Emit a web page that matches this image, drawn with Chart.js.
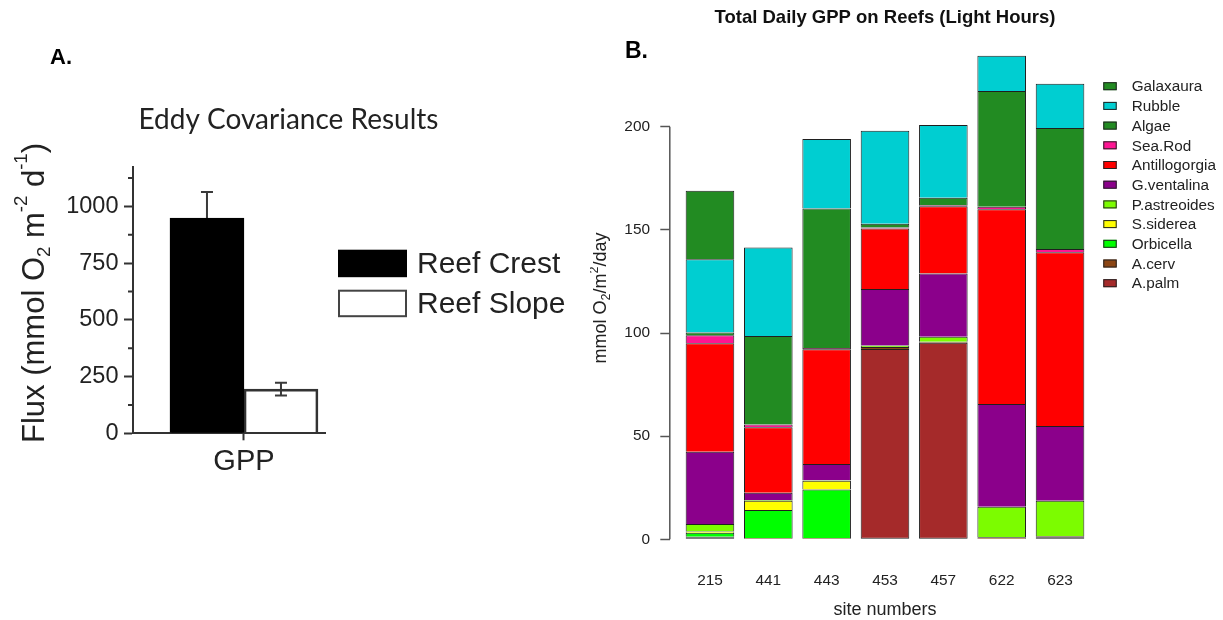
<!DOCTYPE html>
<html>
<head>
<meta charset="utf-8">
<title>Reef GPP</title>
<script src="https://cdn.jsdelivr.net/npm/chart.js@4.4.1/dist/chart.umd.min.js"></script>
<style>
  html, body { margin: 0; padding: 0; background: #fff; }
  #wrap { position: relative; width: 1223px; height: 620px; overflow: hidden; }
  canvas { position: absolute; top: 0; }
  #panelA { left: 0; }
  #panelB { left: 590px; }
</style>
</head>
<body>
<div id="wrap">
  <canvas id="panelA" width="590" height="620"></canvas>
  <canvas id="panelB" width="633" height="620"></canvas>
</div>
<script>
// ---- Panel A: eddy covariance GPP ----
const fluxGroups = ['Reef Crest', 'Reef Slope'];
const fluxValues = [948, 195];
const fluxErrors = [115, 28];
const fluxTicks = [0, 250, 500, 750, 1000];
const fluxMinorTicks = [125, 375, 625, 875, 1125];

// ---- Panel B: daily GPP by site, stacked by community component ----
const sites = ['215', '441', '443', '453', '457', '622', '623'];
const components = ['A.palm', 'A.cerv', 'Orbicella', 'S.siderea', 'P.astreoides',
  'G.ventalina', 'Antillogorgia', 'Sea.Rod', 'Algae', 'Rubble', 'Galaxaura'];
const componentColors = ['#A52A2A', '#8B4513', '#00FF00', '#FFFF00', '#7CFC00',
  '#8B008B', '#FF0000', '#FF1493', '#228B22', '#00CED1', '#228B22'];
const aPalm        = [1.0, 0.3, 0.3, 92.2, 95.3, 0.3, 1.0];
const aCerv        = [0.2, 0.3, 0.3, 1.0, 0.5, 0.7, 0.5];
const orbicella    = [2.0, 13.6, 23.6, 0, 0, 0, 0];
const sSiderea     = [0.6, 4.5, 4.2, 0, 0, 0, 0];
const pAstreoides  = [3.6, 0.4, 0.2, 0.8, 2.4, 14.8, 17.2];
const gVentalina   = [35.1, 3.5, 7.9, 27.3, 30.6, 49.8, 36.2];
const antillogorgia= [52.5, 31.7, 55.6, 29.3, 32.6, 94.4, 84.2];
const seaRod       = [3.9, 1.3, 0.6, 0.5, 0.5, 1.2, 1.6];
const algae        = [1.3, 42.9, 67.7, 1.9, 3.7, 56.1, 58.7];
const rubble       = [35.6, 43.0, 33.6, 45.1, 35.2, 17.1, 21.4];
const galaxaura    = [33.1, 0, 0, 0, 0, 0, 0];
const componentValues = [aPalm, aCerv, orbicella, sSiderea, pAstreoides,
  gVentalina, antillogorgia, seaRod, algae, rubble, galaxaura];
const gppTicks = [0, 50, 100, 150, 200];

const SANS = "'Liberation Sans', Arial, Helvetica, sans-serif";

// Text with sub/superscript runs, centred on (cx, cy), optionally rotated.
function drawRich(ctx, parts, cx, cy, size, rot, color) {
  ctx.save();
  ctx.translate(cx, cy);
  ctx.rotate(rot || 0);
  ctx.fillStyle = color || '#111';
  ctx.textBaseline = 'middle';
  ctx.textAlign = 'left';
  const widths = parts.map(p => {
    ctx.font = `${size * (p.s || 1)}px ${SANS}`;
    return ctx.measureText(p.t).width;
  });
  const total = widths.reduce((a, b) => a + b, 0);
  let x = -total / 2;
  parts.forEach((p, i) => {
    ctx.font = `${size * (p.s || 1)}px ${SANS}`;
    ctx.fillText(p.t, x, (p.dy || 0) * size);
    x += widths[i];
  });
  ctx.restore();
}

function drawText(ctx, text, x, y, font, align, color) {
  ctx.save();
  ctx.font = font;
  ctx.fillStyle = color || '#111';
  ctx.textAlign = align || 'center';
  ctx.textBaseline = 'middle';
  ctx.fillText(text, x, y);
  ctx.restore();
}

// Decorations for panel A: error bars (behind the columns), minor ticks, titles, legend
const panelAPlugin = {
  id: 'panelADecor',
  beforeDatasetsDraw(chart) {
    const ctx = chart.ctx;
    const ys = chart.scales.y;
    fluxValues.forEach((v, i) => {
      const bar = chart.getDatasetMeta(i).data[0];
      const x = bar.x;
      const yTop = ys.getPixelForValue(v + fluxErrors[i]);
      const yBot = ys.getPixelForValue(v - fluxErrors[i]);
      ctx.save();
      ctx.strokeStyle = '#3a3a3a';
      ctx.lineWidth = 2;
      ctx.beginPath();
      ctx.moveTo(x, yTop); ctx.lineTo(x, yBot);
      ctx.moveTo(x - 6, yTop); ctx.lineTo(x + 6, yTop);
      ctx.moveTo(x - 6, yBot); ctx.lineTo(x + 6, yBot);
      ctx.stroke();
      ctx.restore();
    });
  },
  afterDraw(chart) {
    const ctx = chart.ctx;
    const ys = chart.scales.y;
    const area = chart.chartArea;
    // minor ticks
    ctx.save();
    ctx.strokeStyle = '#333';
    ctx.lineWidth = 2;
    ctx.beginPath();
    fluxMinorTicks.forEach(v => {
      const y = ys.getPixelForValue(v);
      ctx.moveTo(area.left - 5, y); ctx.lineTo(area.left, y);
    });
    ctx.stroke();
    ctx.restore();

    // panel letter and title
    drawText(ctx, 'A.', 50, 58, `bold 22px ${SANS}`, 'left', '#000');
    drawText(ctx, 'Eddy Covariance Results', 288.5, 120, `28px Lato, 'Open Sans', sans-serif`, 'center', '#222');

    // axis title
    drawRich(ctx, [
      { t: 'Flux (mmol O' },
      { t: '2', s: 0.6, dy: 0.32 },
      { t: ' m' },
      { t: '-2', s: 0.6, dy: -0.42 },
      { t: ' d' },
      { t: '-1', s: 0.6, dy: -0.42 },
      { t: ')' }
    ], 35, 293, 31, -Math.PI / 2, '#222');

    // legend
    const boxes = [
      { y: 250.7, fill: '#000', stroke: '#000' },
      { y: 290.7, fill: '#fff', stroke: '#444' }
    ];
    fluxGroups.forEach((name, i) => {
      const b = boxes[i];
      ctx.save();
      ctx.fillStyle = b.fill;
      ctx.strokeStyle = b.stroke;
      ctx.lineWidth = 2;
      ctx.fillRect(339, b.y, 67, 25.5);
      ctx.strokeRect(339, b.y, 67, 25.5);
      ctx.restore();
      drawText(ctx, name, 417, b.y + 14, `30px ${SANS}`, 'left', '#222');
    });
  }
};

new Chart(document.getElementById('panelA'), {
  type: 'bar',
  data: {
    datasets: [
      {
        label: fluxGroups[0],
        data: [{ x: 0, y: fluxValues[0] }],
        backgroundColor: '#000',
        borderColor: '#000',
        borderWidth: 2,
        borderSkipped: 'start',
        barThickness: 74
      },
      {
        label: fluxGroups[1],
        data: [{ x: 0, y: fluxValues[1] }],
        backgroundColor: 'rgba(255,255,255,0)',
        borderColor: '#333',
        borderWidth: 2,
        borderSkipped: 'start',
        barThickness: 74
      }
    ]
  },
  options: {
    responsive: false,
    animation: false,
    devicePixelRatio: 1,
    layout: { padding: { left: 13, right: 265, top: 166.7, bottom: 126.7 } },
    plugins: { legend: { display: false }, tooltip: { enabled: false }, title: { display: false } },
    scales: {
      x: {
        type: 'linear',
        offset: false,
        min: -0.578,
        max: 0.422,
        afterBuildTicks: s => { s.ticks = [{ value: 0 }]; },
        afterFit: s => { s.height = 60; },
        ticks: {
          callback: () => 'GPP',
          font: { family: SANS, size: 29 },
          color: '#222',
          padding: 4,
          maxRotation: 0
        },
        grid: { display: true, offset: false, drawOnChartArea: false, drawTicks: true, tickLength: 7, tickColor: '#333', tickWidth: 2 },
        border: { display: true, color: '#333', width: 2 }
      },
      y: {
        type: 'linear',
        min: 0,
        max: 1175,
        afterBuildTicks: s => { s.ticks = fluxTicks.map(v => ({ value: v })); },
        afterFit: s => { s.width = 120; },
        ticks: { callback: v => String(v), font: { family: SANS, size: 23.5 }, color: '#222', padding: 5.5 },
        grid: { display: true, drawOnChartArea: false, drawTicks: true, tickLength: 9, tickColor: '#333', tickWidth: 2 },
        border: { display: true, color: '#333', width: 2 }
      }
    }
  },
  plugins: [panelAPlugin]
});

// Decorations for panel B: axis line, titles, legend
const panelBPlugin = {
  id: 'panelBDecor',
  afterDraw(chart) {
    const ctx = chart.ctx;
    const ys = chart.scales.y;
    const area = chart.chartArea;
    const xAxis = ys.right;
    ctx.save();
    ctx.strokeStyle = '#555';
    ctx.lineWidth = 1.5;
    ctx.beginPath();
    ctx.moveTo(xAxis, ys.getPixelForValue(gppTicks[0]));
    ctx.lineTo(xAxis, ys.getPixelForValue(gppTicks[gppTicks.length - 1]));
    ctx.stroke();
    ctx.restore();

    const cx = (area.left + area.right) / 2;
    drawText(ctx, 'Total Daily GPP on Reefs (Light Hours)', cx, 18, `bold 18.5px ${SANS}`, 'center', '#111');
    drawText(ctx, 'B.', 35, 51.5, `bold 23px ${SANS}`, 'left', '#000');
    drawText(ctx, 'site numbers', cx, 610, `18px ${SANS}`, 'center', '#222');
    drawRich(ctx, [
      { t: 'mmol O' },
      { t: '2', s: 0.7, dy: 0.28 },
      { t: '/m' },
      { t: '2', s: 0.7, dy: -0.38 },
      { t: '/day' }
    ], 11.5, 298, 18, -Math.PI / 2, '#222');

    // legend, top entry is the top of the stack
    const lx = 513.3, ly = 86.2, step = 19.7;
    for (let k = components.length - 1, r = 0; k >= 0; k--, r++) {
      const y = ly + r * step;
      ctx.save();
      ctx.fillStyle = componentColors[k];
      ctx.strokeStyle = '#222';
      ctx.lineWidth = 1;
      ctx.fillRect(lx, y - 4, 13.4, 8);
      ctx.strokeRect(lx + 0.5, y - 3.5, 12.4, 7);
      ctx.restore();
      drawText(ctx, components[k], 541.7, y + 1, `15.3px ${SANS}`, 'left', '#222');
    }
  }
};

new Chart(document.getElementById('panelB'), {
  type: 'bar',
  data: {
    labels: sites,
    datasets: components.map((name, k) => ({
      label: name,
      data: componentValues[k],
      backgroundColor: componentColors[k],
      borderColor: '#1f1f1f',
      borderWidth: 1,
      borderSkipped: k === 0 ? false : 'start',
      yAxisID: 'y',
      categoryPercentage: 1,
      barPercentage: 0.833
    }))
  },
  options: {
    responsive: false,
    animation: false,
    devicePixelRatio: 1,
    layout: { padding: { left: 0, right: 133.8, top: 44.2, bottom: 0 } },
    plugins: { legend: { display: false }, tooltip: { enabled: false }, title: { display: false } },
    scales: {
      x: {
        stacked: true,
        afterFit: s => { s.height = 80.7; },
        grid: { display: false },
        border: { display: false },
        ticks: { font: { family: SANS, size: 15.4 }, color: '#222', padding: 24.4, maxRotation: 0 }
      },
      gap: {
        type: 'linear',
        axis: 'y',
        position: 'left',
        weight: 0,
        afterFit: s => { s.width = 11; },
        grid: { display: false },
        border: { display: false },
        ticks: { display: false }
      },
      y: {
        type: 'linear',
        stacked: true,
        position: 'left',
        weight: 10,
        min: 0,
        max: 240,
        afterBuildTicks: s => { s.ticks = gppTicks.map(v => ({ value: v })); },
        afterFit: s => { s.width = 79.8; },
        ticks: { font: { family: SANS, size: 15.4 }, color: '#222', padding: 10.3 },
        grid: { display: true, drawOnChartArea: false, drawTicks: true, tickLength: 9.5, tickColor: '#555', tickWidth: 1.5 },
        border: { display: false }
      }
    }
  },
  plugins: [panelBPlugin]
});
</script>
</body>
</html>
